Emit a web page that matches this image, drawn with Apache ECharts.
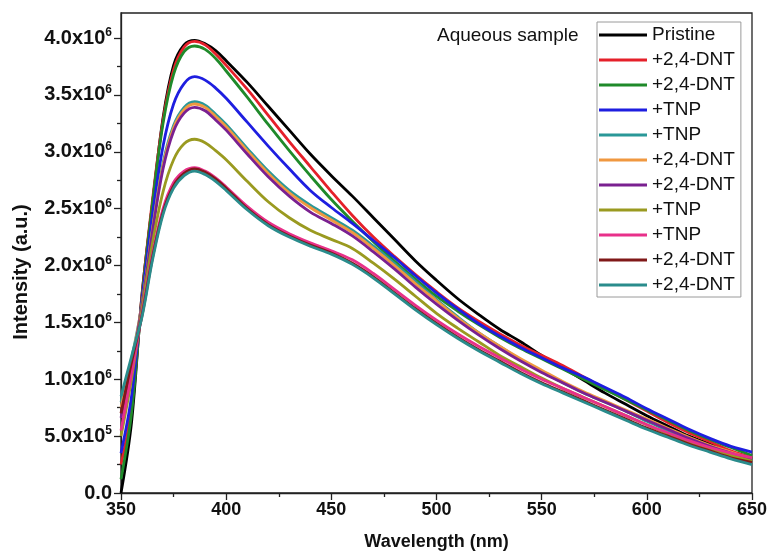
<!DOCTYPE html>
<html>
<head>
<meta charset="utf-8">
<script src="https://cdn.jsdelivr.net/npm/echarts@6/dist/echarts.min.js"></script>
<style>
  html, body { margin: 0; padding: 0; background: #fff; }
  #chart { width: 772px; height: 556px; }
</style>
</head>
<body>
<div id="chart"></div>
<script>
// Emission spectra, intensity in units of 10^6 a.u.
const wavelengths = [350, 355, 360, 365, 370, 375, 380, 385, 390, 395, 400, 410, 420, 430, 440, 450, 460, 470, 480, 490, 500, 510, 520, 530, 540, 550, 560, 570, 580, 590, 600, 610, 620, 630, 640, 650];

const pristine = [0.00, 0.62, 1.75, 2.55, 3.30, 3.76, 3.94, 3.98, 3.95, 3.89, 3.80, 3.61, 3.40, 3.19, 2.98, 2.79, 2.61, 2.42, 2.23, 2.04, 1.87, 1.71, 1.57, 1.44, 1.33, 1.21, 1.10, 0.99, 0.88, 0.78, 0.68, 0.59, 0.50, 0.43, 0.36, 0.30];
const dnt1 = [0.25, 0.75, 1.74, 2.58, 3.28, 3.72, 3.92, 3.97, 3.94, 3.86, 3.76, 3.55, 3.32, 3.09, 2.87, 2.65, 2.44, 2.25, 2.08, 1.92, 1.77, 1.63, 1.51, 1.40, 1.30, 1.21, 1.12, 1.02, 0.92, 0.82, 0.72, 0.62, 0.53, 0.45, 0.37, 0.31];
const dnt2 = [0.12, 0.70, 1.72, 2.55, 3.25, 3.68, 3.88, 3.93, 3.90, 3.82, 3.71, 3.48, 3.24, 3.01, 2.79, 2.58, 2.39, 2.21, 2.04, 1.88, 1.73, 1.60, 1.48, 1.37, 1.27, 1.18, 1.09, 1.00, 0.91, 0.82, 0.73, 0.64, 0.55, 0.47, 0.40, 0.33];
const tnp1 = [0.35, 0.85, 1.70, 2.45, 3.05, 3.42, 3.60, 3.66, 3.63, 3.56, 3.47, 3.26, 3.05, 2.85, 2.66, 2.51, 2.37, 2.22, 2.07, 1.91, 1.76, 1.62, 1.49, 1.38, 1.28, 1.19, 1.10, 1.02, 0.93, 0.84, 0.74, 0.65, 0.56, 0.48, 0.41, 0.36];
const tnp2 = [0.80, 1.18, 1.66, 2.33, 2.90, 3.23, 3.39, 3.44, 3.41, 3.33, 3.24, 3.03, 2.83, 2.66, 2.53, 2.42, 2.31, 2.17, 2.02, 1.86, 1.70, 1.55, 1.41, 1.29, 1.17, 1.07, 0.97, 0.88, 0.80, 0.72, 0.63, 0.55, 0.47, 0.40, 0.33, 0.28];
const dnt3 = [0.75, 1.15, 1.66, 2.32, 2.88, 3.21, 3.37, 3.42, 3.39, 3.31, 3.22, 3.01, 2.81, 2.64, 2.51, 2.40, 2.29, 2.15, 2.00, 1.84, 1.69, 1.54, 1.41, 1.29, 1.18, 1.08, 0.98, 0.89, 0.81, 0.73, 0.65, 0.57, 0.49, 0.42, 0.36, 0.30];
const dnt4 = [0.66, 1.10, 1.65, 2.30, 2.85, 3.18, 3.34, 3.39, 3.36, 3.28, 3.19, 2.98, 2.78, 2.61, 2.47, 2.37, 2.26, 2.12, 1.97, 1.81, 1.66, 1.52, 1.39, 1.27, 1.16, 1.06, 0.97, 0.88, 0.80, 0.72, 0.64, 0.56, 0.48, 0.41, 0.35, 0.29];
const tnp3 = [0.50, 1.00, 1.62, 2.20, 2.65, 2.93, 3.07, 3.11, 3.08, 3.01, 2.93, 2.74, 2.56, 2.42, 2.31, 2.23, 2.15, 2.02, 1.88, 1.73, 1.58, 1.45, 1.33, 1.21, 1.11, 1.01, 0.92, 0.84, 0.76, 0.68, 0.60, 0.52, 0.45, 0.39, 0.33, 0.28];
const tnp4 = [0.55, 1.05, 1.58, 2.10, 2.50, 2.73, 2.83, 2.86, 2.83, 2.77, 2.69, 2.52, 2.38, 2.28, 2.20, 2.13, 2.05, 1.93, 1.79, 1.65, 1.52, 1.40, 1.29, 1.19, 1.09, 1.00, 0.92, 0.84, 0.76, 0.68, 0.60, 0.53, 0.46, 0.40, 0.35, 0.31];
const dnt5 = [0.70, 1.15, 1.56, 2.07, 2.47, 2.70, 2.81, 2.85, 2.82, 2.76, 2.68, 2.50, 2.36, 2.26, 2.18, 2.11, 2.02, 1.90, 1.76, 1.62, 1.49, 1.37, 1.26, 1.16, 1.06, 0.97, 0.89, 0.81, 0.73, 0.65, 0.57, 0.50, 0.43, 0.37, 0.31, 0.27];
const dnt6 = [0.85, 1.20, 1.55, 2.05, 2.45, 2.68, 2.79, 2.83, 2.80, 2.74, 2.66, 2.49, 2.35, 2.25, 2.17, 2.10, 2.01, 1.89, 1.75, 1.61, 1.48, 1.36, 1.25, 1.15, 1.05, 0.96, 0.88, 0.80, 0.72, 0.64, 0.56, 0.49, 0.42, 0.36, 0.30, 0.25];

const seriesLabels = ['Pristine', '+2,4-DNT', '+2,4-DNT', '+TNP', '+TNP', '+2,4-DNT', '+2,4-DNT', '+TNP', '+TNP', '+2,4-DNT', '+2,4-DNT'];
const seriesValues = [pristine, dnt1, dnt2, tnp1, tnp2, dnt3, dnt4, tnp3, tnp4, dnt5, dnt6];
const seriesColors = ['#000000', '#e5202a', '#1f8a2a', '#1e1ee0', '#2a9898', '#f09840', '#7a2090', '#9a9a20', '#e8308a', '#801818', '#2a8c8c'];

const xTicks = [350, 400, 450, 500, 550, 600, 650];
const yTicks = [0, 0.5, 1.0, 1.5, 2.0, 2.5, 3.0, 3.5, 4.0];
const yMinorTicks = [0.25, 0.75, 1.25, 1.75, 2.25, 2.75, 3.25, 3.75];
const yMax = 4.22;

const FONT = '"Liberation Sans", Arial, sans-serif';

// "4.0x10^6" style labels from values in units of 10^6
function sciLabel(v) {
  if (v === 0) return '{m|0.0}';
  const raw = v * 1e6;
  const exp = Math.floor(Math.log10(raw) + 1e-9);
  const mant = raw / Math.pow(10, exp);
  return '{m|' + mant.toFixed(1) + 'x10}{e|' + exp + '}';
}

// each series gets a unique key; the legend shows only the label part
const series = seriesValues.map((vals, i) => ({
  name: seriesLabels[i] + '#' + i,
  type: 'line',
  symbol: 'none',
  smooth: 0.35,
  color: seriesColors[i],
  lineStyle: { width: 2.8, color: seriesColors[i] },
  data: wavelengths.map((w, k) => [w, vals[k]])
}));

const chart = echarts.init(document.getElementById('chart'), null, { renderer: 'canvas' });
chart.setOption({
  animation: false,
  backgroundColor: '#ffffff',
  grid: {
    left: 121, right: 20, top: 13, bottom: 62,
    show: true, borderColor: '#222', borderWidth: 1.3, backgroundColor: 'transparent'
  },
  xAxis: {
    type: 'value',
    min: 350, max: 650, interval: 50,
    name: 'Wavelength (nm)',
    nameLocation: 'middle',
    nameGap: 40,
    nameTextStyle: { fontFamily: FONT, fontSize: 18, fontWeight: 'bold', color: '#111' },
    axisLine: { show: true, lineStyle: { color: '#222', width: 1.3 } },
    axisTick: { show: true, length: 7, lineStyle: { color: '#222', width: 1.3 } },
    minorTick: { show: true, splitNumber: 2, length: 4, lineStyle: { color: '#222', width: 1.3 } },
    splitLine: { show: false },
    axisLabel: {
      margin: 8,
      fontFamily: FONT, fontSize: 18, fontWeight: 'bold', color: '#111',
      customValues: xTicks,
      formatter: v => String(v)
    }
  },
  yAxis: [{
    type: 'value',
    min: 0, max: yMax,
    axisLine: { show: true, lineStyle: { color: '#222', width: 1.3 } },
    axisTick: { show: true, length: 7, customValues: yTicks, lineStyle: { color: '#222', width: 1.3 } },
    splitLine: { show: false },
    axisLabel: {
      margin: 9,
      customValues: yTicks,
      formatter: v => sciLabel(v),
      rich: {
        m: { fontFamily: FONT, fontSize: 20, fontWeight: 'bold', color: '#111', lineHeight: 22 },
        e: { fontFamily: FONT, fontSize: 12, fontWeight: 'bold', color: '#111', lineHeight: 12, verticalAlign: 'top' }
      }
    }
  }, {
    // minor ticks only
    type: 'value',
    min: 0, max: yMax,
    position: 'left',
    axisLine: { show: false },
    axisTick: { show: true, length: 4, customValues: yMinorTicks, lineStyle: { color: '#222', width: 1.3 } },
    axisLabel: { show: false },
    splitLine: { show: false }
  }],
  legend: {
    orient: 'vertical',
    left: 597, top: 22,
    padding: [3, 6, 2, 2],
    itemWidth: 48, itemHeight: 3, itemGap: 5,
    icon: 'rect',
    borderColor: '#9a9a9a', borderWidth: 1,
    backgroundColor: '#fff',
    textStyle: { fontFamily: FONT, fontSize: 19, lineHeight: 20, color: '#111' },
    formatter: name => name.split('#')[0],
    data: series.map(s => s.name)
  },
  graphic: [{
    type: 'text',
    left: 437, top: 26,
    style: { text: 'Aqueous sample', fontFamily: FONT, fontSize: 19, fill: '#111' }
  }, {
    // rotated y-axis title
    type: 'text',
    x: 21, y: 272,
    rotation: Math.PI / 2,
    style: {
      text: 'Intensity (a.u.)', fontFamily: FONT, fontSize: 20, fontWeight: 'bold', fill: '#111',
      align: 'center', verticalAlign: 'middle'
    }
  }],
  series: series
});
</script>
</body>
</html>
